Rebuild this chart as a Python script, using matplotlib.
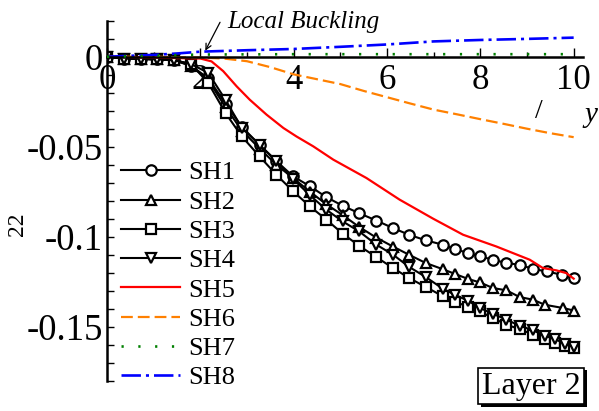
import matplotlib
matplotlib.use('Agg')
import matplotlib.pyplot as plt
import matplotlib.patheffects as pe
from matplotlib.ticker import FixedLocator

plt.rcParams['font.family'] = ['Liberation Serif', 'DejaVu Serif']
plt.rcParams['axes.unicode_minus'] = False
plt.rcParams['lines.scale_dashes'] = False

# x values of the marker curves
x_sh = [0, 0.36, 0.72, 1.08, 1.44, 1.80, 2.17, 2.54, 2.89, 3.27, 3.63, 3.99, 4.35, 4.70,
        5.05, 5.40, 5.77, 6.13, 6.47, 6.83, 7.19, 7.45, 7.74, 7.99, 8.27, 8.56, 8.84,
        9.13, 9.38, 9.59, 9.81, 10.0]
x_sh1 = [0, 0.36, 0.72, 1.08, 1.44, 1.80, 2.17, 2.54, 2.89, 3.27, 3.63, 3.99, 4.35, 4.70,
         5.05, 5.40, 5.77, 6.13, 6.47, 6.83, 7.19, 7.45, 7.74, 7.99, 8.27, 8.56, 8.84,
         9.13, 9.42, 9.74, 10.0]
x_sh2 = [0, 0.36, 0.72, 1.08, 1.44, 1.80, 2.17, 2.54, 2.89, 3.27, 3.63, 3.99, 4.35, 4.70,
         5.05, 5.40, 5.77, 6.13, 6.47, 6.83, 7.19, 7.45, 7.74, 7.99, 8.27, 8.56, 8.84,
         9.13, 9.38, 9.77, 10.0]

sh1 = [0, -0.001, -0.0012, -0.0015, -0.002, -0.005, -0.012, -0.026, -0.039, -0.049, -0.058,
       -0.0665, -0.072, -0.078, -0.0828, -0.0869, -0.091, -0.0952, -0.0989, -0.102, -0.1044,
       -0.1068, -0.1091, -0.1109, -0.1128, -0.1146, -0.1156, -0.1179, -0.1193, -0.1211, -0.123]
sh2 = [0, -0.001, -0.0012, -0.0015, -0.002, -0.005, -0.013, -0.028, -0.041, -0.051, -0.060,
       -0.0675, -0.075, -0.082, -0.088, -0.0945, -0.1005, -0.1055, -0.110, -0.1146, -0.118,
       -0.1206, -0.1235, -0.1254, -0.1285, -0.1298, -0.1335, -0.135, -0.1378, -0.1396, -0.141]
sh3 = [0, -0.001, -0.0012, -0.0015, -0.002, -0.004, -0.0146, -0.0313, -0.0443, -0.0554,
       -0.0656, -0.0748, -0.0832, -0.0905, -0.0983, -0.105, -0.1113, -0.1174, -0.1229,
       -0.1279, -0.1330, -0.1360, -0.139, -0.1415, -0.1452, -0.1489, -0.1513, -0.1544,
       -0.1568, -0.1591, -0.1606, -0.1618]
sh4 = [0, -0.001, -0.0012, -0.0015, -0.002, -0.004, -0.009, -0.024, -0.0396, -0.0489, -0.058,
       -0.068, -0.077, -0.085, -0.0915, -0.097, -0.1044, -0.110, -0.1167, -0.1224, -0.1288,
       -0.1322, -0.1356, -0.1396, -0.1428, -0.1461, -0.1494, -0.152, -0.155, -0.1568,
       -0.1594, -0.1613]

x_sh5 = [0, 1.0, 2.0, 2.24, 2.49, 2.78, 3.06, 3.42, 3.78, 4.06, 4.42, 4.85, 5.56, 6.27,
         6.99, 7.63, 8.34, 9.06, 9.34, 9.63, 9.84, 10.0]
sh5 = [0, -0.0005, -0.001, -0.0026, -0.008, -0.0165, -0.0239, -0.0322, -0.0396, -0.0443,
       -0.0498, -0.0572, -0.0674, -0.0794, -0.0900, -0.0989, -0.1054, -0.1128, -0.1174,
       -0.1187, -0.1202, -0.1233]

x_sh6 = [0, 1, 2, 2.5, 3, 3.5, 4, 4.5, 5, 5.5, 6, 6.5, 7, 7.5, 8, 8.5, 9, 9.5, 10]
sh6 = [0, 0, -0.0005, -0.001, -0.0025, -0.0058, -0.0098, -0.0125, -0.0152, -0.019, -0.0225,
       -0.026, -0.0294, -0.032, -0.0347, -0.0373, -0.040, -0.0425, -0.0447]

x_sh7 = [0, 2, 4, 6, 8, 10]
sh7 = [0, 0.0012, 0.0014, 0.0014, 0.0014, 0.0014]

x_sh8 = [0, 0.5, 1, 1.5, 2, 2.5, 3, 4, 5, 6, 7, 8, 9, 10]
sh8 = [0, 0.0005, 0.001, 0.0018, 0.0028, 0.0032, 0.0036, 0.0043, 0.0055, 0.0068, 0.0085,
       0.0093, 0.0099, 0.0106]

labels = ['SH1', 'SH2', 'SH3', 'SH4', 'SH5', 'SH6', 'SH7', 'SH8']

fig = plt.figure(figsize=(5.99, 4.11), dpi=100)
ax = fig.add_axes([0.1786, 0.0737, 0.7947, 0.8759])

mk = dict(color='black', lw=1.5, mfc='white', mec='black', mew=1.6, ms=7.5)
ax.plot(x_sh1, sh1, marker='o', label=labels[0], **mk)
ax.plot(x_sh2, sh2, marker='^', label=labels[1], **mk)
ax.plot(x_sh, sh3, marker='s', label=labels[2], **dict(mk, ms=6.8))
ax.plot(x_sh, sh4, marker='v', label=labels[3], **mk)
ax.plot(x_sh5, sh5, color='red', lw=1.6, label=labels[4])
ax.plot(x_sh6, sh6, color='#ff8000', lw=1.6, dashes=(8.5, 3.6), label=labels[5])
ax.plot(x_sh7, sh7, color='green', lw=1.9, dashes=(1.6, 10.5), label=labels[6], zorder=3)
ax.plot(x_sh8, sh8, color='blue', lw=1.9, dashes=(14, 3.6, 2.2, 3.6), label=labels[7])

ax.set_xlim(0, 10.2)
ax.set_ylim(-0.18, 0.02)
ax.spines['top'].set_visible(False)
ax.spines['right'].set_visible(False)
ax.spines['bottom'].set_position(('data', 0))
ax.spines['bottom'].set_linewidth(1.8)
ax.spines['left'].set_linewidth(1.8)

ax.xaxis.set_major_locator(FixedLocator([0, 2, 4, 6, 8, 10]))
ax.xaxis.set_minor_locator(FixedLocator([1, 3, 5, 7, 9]))
ax.set_xticklabels(['0', '2', '4', '6', '8', '10'])
ax.yaxis.set_major_locator(FixedLocator([0, -0.05, -0.1, -0.15]))
ax.yaxis.set_minor_locator(FixedLocator([0.02, 0.01, -0.01, -0.02, -0.03, -0.04, -0.06,
                                         -0.07, -0.08, -0.09, -0.11, -0.12, -0.13, -0.14,
                                         -0.16, -0.17, -0.18]))
ax.set_yticklabels(['0', '-0.05', '-0.1', '-0.15'])
ax.tick_params(axis='x', which='major', direction='in', length=6.5, width=1, labelsize=25, pad=5)
ax.tick_params(axis='x', which='minor', direction='in', length=3.6, width=1)
ax.tick_params(axis='y', which='both', direction='in', length=5, width=1, labelsize=26.5, pad=3)

leg = ax.legend(loc='upper left', bbox_to_anchor=(121 / 599, 1 - 161 / 411),
                bbox_transform=fig.transFigure, frameon=False, fontsize=19,
                handlelength=2.25, handletextpad=0.3, labelspacing=0.22,
                borderpad=0, borderaxespad=0, numpoints=1)

# Local buckling annotation
ax.text(2.57, 0.016, 'Local Buckling', fontsize=18, fontstyle='italic', ha='left',
        va='baseline')
ax.annotate('', xy=(2.08, 0.002), xytext=(2.45, 0.0205),
            arrowprops=dict(arrowstyle='->', lw=0.9, color='black'))

# axis labels (partial glyphs as in the source)
fig.text(539 / 599, 1 - 112 / 411, '/', fontsize=20, ha='center', va='center')
fig.text(591 / 599, 1 - 115 / 411, 'y', fontsize=21, fontstyle='italic', ha='center',
         va='center')
fig.text(18 / 599, 1 - 224 / 411, '22', fontsize=17, rotation=90, ha='center', va='center')

t = fig.text(531 / 599, 1 - 386 / 411, 'Layer 2', fontsize=23, ha='center', va='center',
             bbox=dict(boxstyle='square,pad=0.12', fc='white', ec='black', lw=1.2))
t.get_bbox_patch().set_path_effects([
    pe.SimplePatchShadow(offset=(2, -2), shadow_rgbFace='black', alpha=1),
    pe.Normal()])

fig.savefig('out.png', dpi=100)
